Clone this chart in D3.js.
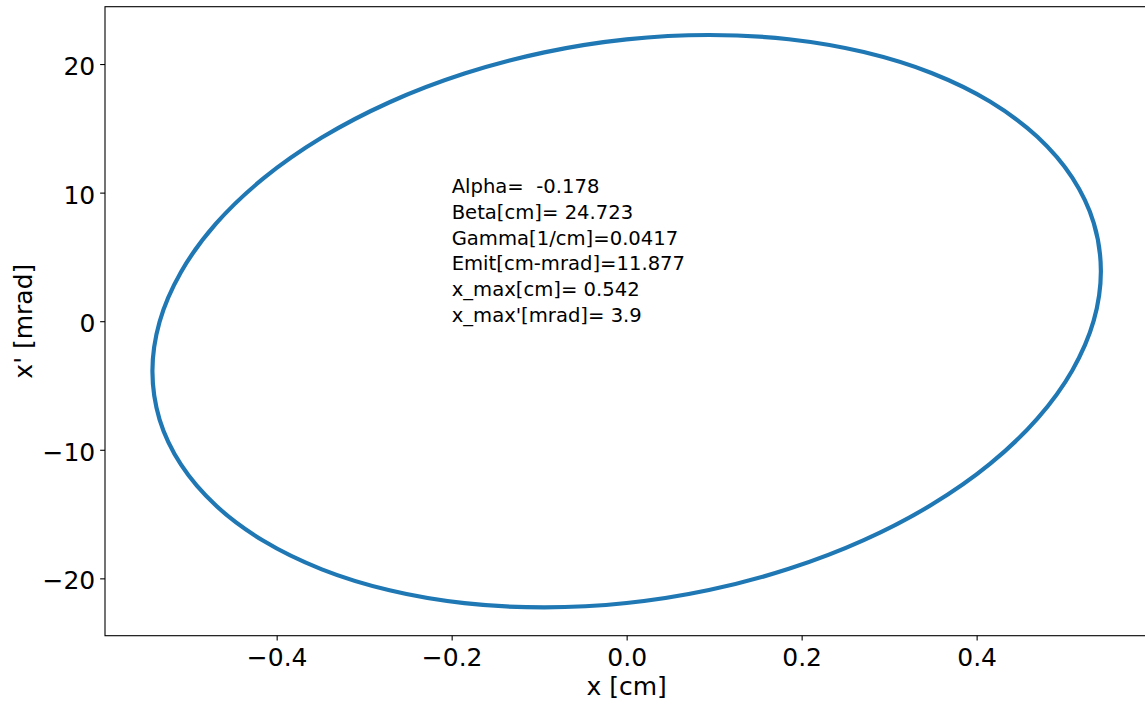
<!DOCTYPE html>
<html>
<head>
<meta charset="utf-8">
<script src="https://cdn.jsdelivr.net/npm/d3@7"></script>
<style>
  html, body { margin: 0; padding: 0; background: #fff; }
  svg { display: block; font-family: "DejaVu Sans", sans-serif; }
</style>
</head>
<body>
<svg id="chart" width="1145" height="705"></svg>
<script>
// Phase-space ellipse points: x [cm], x' [mrad]
const xValues = [
  0.542, 0.5338, 0.5093, 0.4694, 0.4152, 0.3484, 0.271, 0.1854, 0.0941, 0.0,
  -0.0941, -0.1854, -0.271, -0.3484, -0.4152, -0.4694, -0.5093, -0.5338, -0.542,
  -0.5338, -0.5093, -0.4694, -0.4152, -0.3484, -0.271, -0.1854, -0.0941, 0.0,
  0.0941, 0.1854, 0.271, 0.3484, 0.4152, 0.4694, 0.5093, 0.5338
];
const xpValues = [
  3.90, 0.04, -3.83, -7.58, -11.10, -14.28, -17.03, -19.26, -20.91, -21.92,
  -22.26, -21.93, -20.93, -19.30, -17.08, -14.34, -11.16, -7.65, -3.90,
  -0.04, 3.83, 7.58, 11.10, 14.28, 17.03, 19.26, 20.91, 21.92,
  22.26, 21.93, 20.93, 19.30, 17.08, 14.34, 11.16, 7.65
];
const xTicks = [-0.4, -0.2, 0.0, 0.2, 0.4];
const xTickLabels = ["\u22120.4", "\u22120.2", "0.0", "0.2", "0.4"];
const yTicks = [-20, -10, 0, 10, 20];
const yTickLabels = ["\u221220", "\u221210", "0", "10", "20"];
const infoLines = [
  "Alpha=  -0.178",
  "Beta[cm]= 24.723",
  "Gamma[1/cm]=0.0417",
  "Emit[cm-mrad]=11.877",
  "x_max[cm]= 0.542",
  "x_max'[mrad]= 3.9"
];
const infoAnchor = { x: -0.2, y: 0 };
const xLabel = "x [cm]";
const yLabel = "x' [mrad]";

(function () {
const svg = d3.select("#chart");
svg.append("rect").attr("width", 1145).attr("height", 705).attr("fill", "#fff");

const pLeft = 105, pTop = 6.7, pRight = 1148.3, pBottom = 635.7;
const x = d3.scaleLinear().domain([-0.5962, 0.5962]).range([pLeft, pRight]);
const y = d3.scaleLinear().domain([-24.46, 24.46]).range([pBottom, pTop]);

const pts = xValues.map((v, i) => [v, xpValues[i]]);
const line = d3.line().x(d => x(d[0])).y(d => y(d[1])).curve(d3.curveCatmullRomClosed);

svg.append("path")
  .attr("d", line(pts))
  .attr("fill", "none")
  .attr("stroke", "#1f77b4")
  .attr("stroke-width", 4.17)
  .attr("stroke-linejoin", "round");

// info text
const tx = x(infoAnchor.x);
const lastBase = y(infoAnchor.y) + 0.5;
const lh = 25.7;
const info = svg.append("text")
  .attr("font-size", 19.6)
  .attr("fill", "#000")
  .style("white-space", "pre");
infoLines.forEach((t, i) => {
  info.append("tspan")
    .attr("x", tx)
    .attr("y", lastBase - (infoLines.length - 1 - i) * lh)
    .text(t);
});

// spines
svg.append("rect")
  .attr("x", pLeft).attr("y", pTop)
  .attr("width", pRight - pLeft).attr("height", pBottom - pTop)
  .attr("fill", "none").attr("stroke", "#000").attr("stroke-width", 1.1);

// x axis
const xAxis = d3.axisBottom(x).tickValues(xTicks)
  .tickFormat((d, i) => xTickLabels[i]).tickSize(4.86).tickPadding(4.86);
const gx = svg.append("g").attr("transform", `translate(0,${pBottom})`).call(xAxis);
gx.select(".domain").remove();
gx.selectAll(".tick line").attr("stroke", "#000").attr("stroke-width", 1.1);
gx.selectAll(".tick text").attr("font-size", 25).attr("font-family", "DejaVu Sans")
  .attr("fill", "#000").attr("dy", null).attr("y", 30);

// y axis
const yAxis = d3.axisLeft(y).tickValues(yTicks)
  .tickFormat((d, i) => yTickLabels[i]).tickSize(4.86).tickPadding(4.86);
const gy = svg.append("g").attr("transform", `translate(${pLeft},0)`).call(yAxis);
gy.select(".domain").remove();
gy.selectAll(".tick line").attr("stroke", "#000").attr("stroke-width", 1.1);
gy.selectAll(".tick text").attr("font-size", 25).attr("font-family", "DejaVu Sans")
  .attr("fill", "#000").attr("dy", null).attr("y", 10.5);

// axis labels
svg.append("text")
  .attr("x", x(0)).attr("y", 695)
  .attr("text-anchor", "middle").attr("font-size", 25).attr("fill", "#000")
  .text(xLabel);
svg.append("text")
  .attr("transform", `translate(31.5,${y(0)}) rotate(-90)`)
  .attr("text-anchor", "middle").attr("font-size", 25).attr("fill", "#000")
  .text(yLabel);
})();
</script>
</body>
</html>
